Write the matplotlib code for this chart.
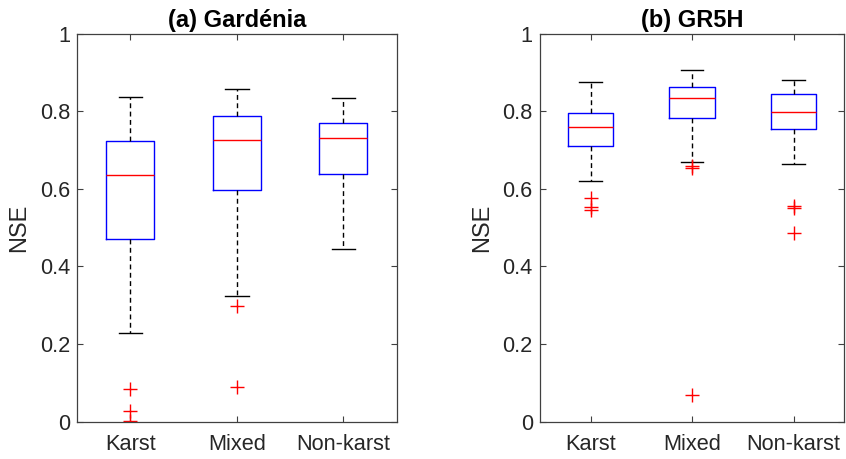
import matplotlib.pyplot as plt

plt.rcParams['font.family'] = ['Liberation Sans', 'DejaVu Sans']

categories = ["Karst", "Mixed", "Non-karst"]

# (a) Gardénia : box statistics
gard_whislo = [0.228, 0.324, 0.446]
gard_q1 = [0.470, 0.597, 0.638]
gard_med = [0.636, 0.725, 0.730]
gard_q3 = [0.722, 0.787, 0.770]
gard_whishi = [0.837, 0.857, 0.833]
gard_fliers = [[0.083, 0.028, 0.001], [0.298, 0.089], []]

# (b) GR5H
gr5h_whislo = [0.621, 0.670, 0.663]
gr5h_q1 = [0.711, 0.783, 0.754]
gr5h_med = [0.760, 0.833, 0.799]
gr5h_q3 = [0.794, 0.863, 0.845]
gr5h_whishi = [0.875, 0.906, 0.879]
gr5h_fliers = [[0.577, 0.554, 0.546], [0.658, 0.653, 0.069], [0.556, 0.550, 0.485]]

yticks = [0, 0.2, 0.4, 0.6, 0.8, 1.0]
ytick_labels = ["0", "0.2", "0.4", "0.6", "0.8", "1"]

AXCOL = "#262626"


def make_stats(lo, q1, med, q3, hi, fliers):
    stats = []
    for i in range(len(lo)):
        stats.append({"whislo": lo[i], "q1": q1[i], "med": med[i], "q3": q3[i],
                      "whishi": hi[i], "fliers": fliers[i], "label": categories[i]})
    return stats


def draw_panel(ax, stats, title):
    ax.bxp(stats, positions=[1, 2, 3], widths=0.45, capwidths=0.22,
           showfliers=True, patch_artist=False,
           boxprops=dict(color="#0000FF", linewidth=1.0),
           medianprops=dict(color="#FF0000", linewidth=1.0),
           whiskerprops=dict(color="black", linewidth=1.0, linestyle=(0, (3.5, 2.5))),
           capprops=dict(color="black", linewidth=1.0),
           flierprops=dict(marker="+", markeredgecolor="#FF0000", markersize=9.5,
                           markeredgewidth=1.0, linestyle="none"))
    ax.set_xlim(0.5, 3.5)
    ax.set_ylim(0, 1)
    ax.set_yticks(yticks)
    ax.set_yticklabels(ytick_labels)
    ax.set_xticks([1, 2, 3])
    ax.set_xticklabels(categories)
    ax.tick_params(direction="in", length=4, width=0.8, colors="#404040",
                   labelcolor=AXCOL, labelsize=15.7, top=True, right=True, pad=5)
    ax.tick_params(axis="x", pad=9)
    for s in ax.spines.values():
        s.set_color("#404040")
        s.set_linewidth(0.9)
    ax.set_ylabel("NSE", fontsize=17, color=AXCOL, labelpad=7)
    ax.set_title(title, fontsize=17, fontweight="bold", color="black", pad=5)


fig = plt.figure(figsize=(8.46, 4.59), dpi=100)
ax1 = fig.add_axes([0.091, 0.0813, 0.378, 0.8457])
ax2 = fig.add_axes([0.638, 0.0813, 0.360, 0.8457])

draw_panel(ax1, make_stats(gard_whislo, gard_q1, gard_med, gard_q3, gard_whishi, gard_fliers),
           "(a) Gardénia")
draw_panel(ax2, make_stats(gr5h_whislo, gr5h_q1, gr5h_med, gr5h_q3, gr5h_whishi, gr5h_fliers),
           "(b) GR5H")

fig.savefig("out.png", dpi=100, facecolor="white")
